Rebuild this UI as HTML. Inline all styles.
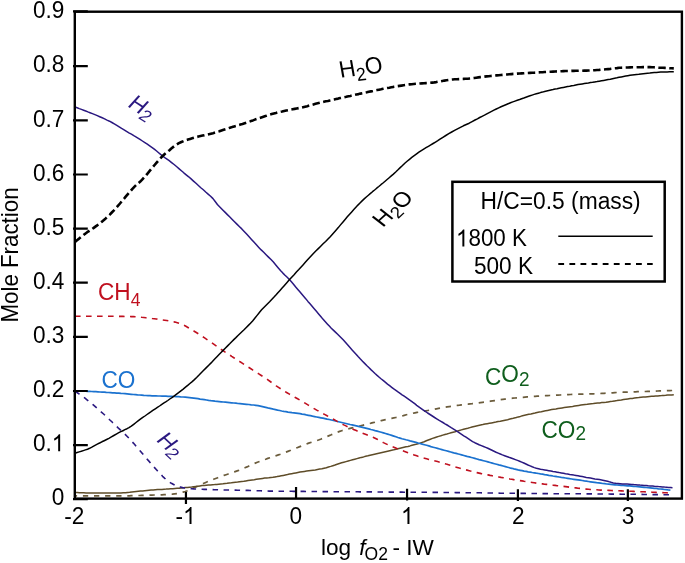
<!DOCTYPE html>
<html><head><meta charset="utf-8"><style>
html,body{margin:0;padding:0;background:#fff;width:685px;height:563px;overflow:hidden;font-family:"Liberation Sans",sans-serif}
</style></head><body>
<svg width="685" height="563" viewBox="0 0 685 563" style="position:absolute;left:0;top:0;will-change:transform">
<g>
<g fill="none" stroke-linejoin="round">
<path d="M75.0,495.9 L77.1,495.9 L79.2,495.9 L81.3,495.9 L83.3,495.9 L85.4,495.9 L87.5,495.9 L89.6,495.9 L91.7,495.9 L93.8,495.9 L95.9,495.9 L97.9,495.9 L100.0,495.9 L102.1,495.9 L104.2,495.9 L106.3,495.9 L108.4,495.9 L110.5,495.9 L112.5,495.9 L114.6,495.9 L116.7,495.9 L118.8,495.9 L120.9,495.9 L123.0,495.9 L125.1,495.8 L127.1,495.8 L129.2,495.8 L131.3,495.7 L133.4,495.7 L135.5,495.6 L137.6,495.5 L139.7,495.5 L141.7,495.4 L143.8,495.3 L145.9,495.3 L148.0,495.2 L150.0,495.1 L152.0,495.1 L154.0,495.0 L156.0,495.0 L158.0,494.9 L160.0,494.9 L162.0,494.8 L164.0,494.7 L166.0,494.6 L168.0,494.5 L170.0,494.4 L172.3,494.2 L174.7,493.9 L177.0,493.6 L179.1,493.2 L181.1,492.7 L183.1,492.1 L185.2,491.5 L187.5,490.7 L189.9,489.7 L192.2,488.6 L194.6,487.5 L196.9,486.4 L199.0,485.5 L201.1,484.6 L203.2,483.6 L205.2,482.7 L207.3,481.8 L209.4,480.9 L211.5,480.1 L213.6,479.3 L215.7,478.5 L217.8,477.7 L219.8,476.9 L221.9,476.2 L224.0,475.4 L226.1,474.7 L228.2,474.0 L230.3,473.3 L232.4,472.6 L234.4,471.9 L236.5,471.1 L238.6,470.4 L240.7,469.6 L242.8,468.7 L244.9,467.8 L247.0,466.9 L249.0,465.9 L251.1,464.9 L253.2,464.0 L255.3,463.1 L257.4,462.3 L259.5,461.5 L261.6,460.7 L263.6,459.9 L265.7,459.2 L267.8,458.4 L269.9,457.7 L272.0,457.0 L274.1,456.3 L276.3,455.6 L278.4,454.9 L280.4,454.2 L282.5,453.4 L284.5,452.7 L286.6,451.9 L288.6,451.1 L290.7,450.3 L292.8,449.4 L295.0,448.6 L297.1,447.7 L299.2,446.9 L301.2,446.1 L303.3,445.3 L305.3,444.4 L307.4,443.6 L309.4,442.9 L311.7,442.2 L313.9,441.5 L316.2,440.8 L318.5,440.0 L320.6,439.2 L322.8,438.3 L324.9,437.4 L327.1,436.5 L329.2,435.6 L331.3,434.8 L333.4,433.9 L335.5,433.0 L337.5,432.2 L339.6,431.4 L341.7,430.7 L343.8,430.0 L345.9,429.4 L348.0,428.9 L350.1,428.4 L352.1,427.9 L354.2,427.4 L356.3,426.9 L358.4,426.4 L360.5,425.9 L362.6,425.3 L364.7,424.8 L366.7,424.3 L368.8,423.8 L370.9,423.2 L373.0,422.7 L375.1,422.2 L377.2,421.6 L379.3,421.1 L381.3,420.6 L383.4,420.1 L385.5,419.6 L387.6,419.1 L389.7,418.7 L391.7,418.3 L393.8,417.9 L395.9,417.5 L397.9,417.1 L400.0,416.6 L402.1,416.0 L404.2,415.4 L406.3,414.8 L408.4,414.2 L410.6,413.7 L412.8,413.3 L414.9,412.8 L417.1,412.4 L419.3,412.1 L421.4,411.7 L423.6,411.3 L425.8,410.9 L427.9,410.5 L430.1,410.1 L432.2,409.7 L434.3,409.3 L436.4,408.8 L438.6,408.4 L440.7,408.0 L442.8,407.7 L444.9,407.3 L447.1,406.9 L449.2,406.6 L451.3,406.3 L453.4,406.0 L455.5,405.7 L457.5,405.4 L459.6,405.2 L461.7,404.9 L463.8,404.7 L465.9,404.4 L468.0,404.2 L470.1,403.9 L472.1,403.7 L474.2,403.4 L476.3,403.2 L478.4,402.9 L480.4,402.6 L482.5,402.3 L484.5,402.1 L486.5,401.8 L488.5,401.5 L490.6,401.2 L492.6,400.9 L494.6,400.6 L496.7,400.3 L498.7,400.0 L500.7,399.7 L502.8,399.4 L504.8,399.1 L506.8,398.9 L508.8,398.6 L510.9,398.4 L512.9,398.2 L514.9,398.0 L516.9,397.8 L519.0,397.6 L521.0,397.4 L523.0,397.3 L525.0,397.1 L527.1,396.9 L529.1,396.8 L531.1,396.6 L533.1,396.5 L535.2,396.4 L537.2,396.2 L539.2,396.1 L541.3,396.0 L543.4,395.8 L545.5,395.7 L547.5,395.6 L549.6,395.5 L551.7,395.4 L553.8,395.3 L555.9,395.2 L558.0,395.1 L560.1,395.0 L562.1,394.9 L564.2,394.8 L566.3,394.7 L568.4,394.6 L570.5,394.5 L572.6,394.4 L574.7,394.4 L576.7,394.3 L578.8,394.2 L580.9,394.2 L583.0,394.1 L585.1,394.0 L587.2,394.0 L589.3,393.9 L591.3,393.8 L593.4,393.8 L595.5,393.7 L597.6,393.6 L599.8,393.5 L601.9,393.4 L604.1,393.3 L606.2,393.1 L608.4,393.0 L610.5,392.9 L612.7,392.8 L614.8,392.6 L617.0,392.5 L619.1,392.4 L621.3,392.3 L623.3,392.2 L625.3,392.1 L627.4,392.1 L629.4,392.0 L631.4,391.9 L633.4,391.9 L635.5,391.8 L637.5,391.7 L639.5,391.7 L641.5,391.6 L643.6,391.5 L645.6,391.5 L647.6,391.4 L649.6,391.3 L651.6,391.3 L653.6,391.2 L655.7,391.1 L657.7,391.0 L659.7,390.9 L661.7,390.9 L663.7,390.8 L665.7,390.7 L667.8,390.6 L669.8,390.6 L671.8,390.5 L673.8,390.4" stroke="#6b5c3c" stroke-width="1.7" stroke-dasharray="5.3 5.8" stroke-dashoffset="3.2"/>
<path d="M75.0,492.6 L77.2,492.6 L79.4,492.7 L81.6,492.7 L83.8,492.8 L86.0,492.9 L88.1,492.9 L90.3,492.9 L92.5,493.0 L94.7,493.0 L96.9,493.0 L99.1,493.0 L101.3,493.0 L103.5,493.0 L105.7,493.0 L107.8,493.0 L110.0,493.0 L112.2,493.0 L114.4,493.0 L116.6,493.0 L118.8,493.0 L121.0,493.0 L123.2,492.8 L125.4,492.7 L127.6,492.4 L129.7,492.2 L131.9,491.9 L134.1,491.7 L136.3,491.5 L138.4,491.3 L140.5,491.1 L142.6,490.9 L144.7,490.7 L146.9,490.5 L149.0,490.3 L151.1,490.1 L153.2,490.0 L155.3,489.8 L157.5,489.6 L159.7,489.5 L161.9,489.4 L164.1,489.2 L166.2,489.1 L168.4,488.9 L170.6,488.8 L172.8,488.7 L175.0,488.5 L177.1,488.3 L179.2,488.2 L181.3,488.0 L183.3,487.8 L185.4,487.6 L187.5,487.4 L189.6,487.2 L191.7,487.0 L193.8,486.7 L195.9,486.4 L197.9,486.2 L200.0,485.9 L202.1,485.6 L204.2,485.4 L206.3,485.2 L208.4,485.0 L210.5,484.9 L212.5,484.7 L214.6,484.6 L216.7,484.4 L218.8,484.2 L220.9,484.0 L223.0,483.8 L225.1,483.5 L227.1,483.3 L229.2,483.0 L231.3,482.8 L233.4,482.5 L235.5,482.2 L237.6,482.0 L239.7,481.7 L241.7,481.4 L243.8,481.2 L245.9,480.9 L248.0,480.6 L250.1,480.3 L252.2,480.0 L254.3,479.7 L256.3,479.3 L258.4,479.0 L260.5,478.7 L262.6,478.4 L264.7,478.1 L266.7,477.9 L268.8,477.7 L270.9,477.4 L272.9,477.2 L275.0,476.9 L277.1,476.6 L279.2,476.2 L281.2,475.8 L283.3,475.4 L285.4,475.0 L287.5,474.6 L289.6,474.1 L291.7,473.7 L293.8,473.3 L295.8,472.9 L297.9,472.5 L300.0,472.1 L302.2,471.7 L304.4,471.4 L306.6,471.1 L308.8,470.8 L310.9,470.5 L313.1,470.2 L315.3,469.9 L317.5,469.5 L319.7,469.1 L321.9,468.7 L324.1,468.2 L326.3,467.7 L328.5,467.0 L330.7,466.4 L332.9,465.7 L335.0,465.0 L337.2,464.2 L339.4,463.5 L341.6,462.8 L343.8,462.2 L346.0,461.6 L348.2,461.0 L350.4,460.4 L352.6,459.8 L354.8,459.2 L356.9,458.6 L359.1,458.0 L361.3,457.4 L363.5,456.9 L365.7,456.3 L367.9,455.8 L370.1,455.2 L372.3,454.7 L374.5,454.2 L376.6,453.7 L378.8,453.2 L381.0,452.7 L383.2,452.2 L385.4,451.7 L387.6,451.2 L389.7,450.7 L391.7,450.2 L393.8,449.8 L395.9,449.3 L397.9,448.8 L400.0,448.3 L402.0,447.8 L404.0,447.3 L406.0,446.8 L408.0,446.4 L410.0,445.9 L412.0,445.3 L414.0,444.8 L416.0,444.3 L418.0,443.7 L420.0,443.1 L422.1,442.4 L424.2,441.7 L426.3,440.8 L428.3,440.0 L430.4,439.2 L432.5,438.4 L434.6,437.7 L436.7,437.0 L438.7,436.4 L440.8,435.8 L442.8,435.1 L444.9,434.5 L446.9,434.0 L449.0,433.4 L451.0,432.8 L453.1,432.2 L455.1,431.7 L457.2,431.1 L459.3,430.5 L461.4,429.9 L463.6,429.3 L465.7,428.7 L467.8,428.2 L469.9,427.6 L472.0,427.0 L474.2,426.5 L476.3,426.0 L478.4,425.5 L480.6,425.0 L482.8,424.6 L485.0,424.1 L487.2,423.7 L489.4,423.3 L491.5,422.9 L493.7,422.5 L495.9,422.1 L498.1,421.6 L500.3,421.2 L502.7,420.7 L505.1,420.2 L507.6,419.7 L510.0,419.1 L512.1,418.6 L514.2,418.0 L516.3,417.5 L518.3,416.9 L520.4,416.4 L522.5,415.8 L524.6,415.3 L526.7,414.8 L528.8,414.3 L530.9,413.9 L532.9,413.4 L535.0,413.0 L537.1,412.5 L539.2,412.1 L541.3,411.7 L543.4,411.2 L545.5,410.8 L547.5,410.4 L549.6,410.0 L551.7,409.6 L553.8,409.2 L555.9,408.9 L558.0,408.5 L560.1,408.2 L562.1,407.9 L564.2,407.6 L566.3,407.3 L568.4,407.0 L570.5,406.7 L572.6,406.4 L574.7,406.0 L576.7,405.7 L578.8,405.4 L580.9,405.1 L583.0,404.8 L585.1,404.5 L587.2,404.3 L589.3,404.0 L591.3,403.8 L593.4,403.6 L595.5,403.3 L597.6,403.1 L599.7,402.9 L601.8,402.6 L603.9,402.4 L606.0,402.2 L608.1,401.9 L610.3,401.6 L612.5,401.3 L614.7,400.9 L616.9,400.6 L619.1,400.2 L621.3,399.9 L623.5,399.5 L625.7,399.2 L627.9,398.9 L630.1,398.6 L632.3,398.4 L634.5,398.1 L636.7,397.8 L638.8,397.6 L641.0,397.3 L643.2,397.1 L645.4,396.9 L647.6,396.7 L649.6,396.5 L651.6,396.3 L653.6,396.2 L655.7,396.0 L657.7,395.9 L659.7,395.7 L661.7,395.6 L663.7,395.4 L665.7,395.3 L667.8,395.1 L669.8,395.0 L671.8,394.9 L673.8,394.7" stroke="#5e4c28" stroke-width="1.5"/>
<path d="M75.0,390.8 L77.1,390.9 L79.2,391.0 L81.3,391.0 L83.3,391.1 L85.4,391.2 L87.5,391.3 L89.6,391.4 L91.7,391.5 L93.8,391.6 L95.9,391.7 L97.9,391.8 L100.0,392.0 L102.1,392.1 L104.2,392.2 L106.3,392.4 L108.4,392.5 L110.5,392.6 L112.5,392.8 L114.6,392.9 L116.7,393.1 L118.8,393.2 L120.9,393.4 L123.0,393.5 L125.1,393.7 L127.1,393.9 L129.2,394.1 L131.3,394.3 L133.4,394.5 L135.5,394.7 L137.6,394.9 L139.7,395.0 L141.7,395.2 L143.8,395.4 L145.9,395.5 L148.0,395.6 L150.0,395.7 L152.0,395.8 L154.0,395.8 L156.0,395.9 L158.0,396.0 L160.0,396.0 L162.0,396.1 L164.0,396.1 L166.0,396.2 L168.0,396.3 L170.0,396.3 L172.0,396.4 L174.0,396.5 L176.2,396.6 L178.5,396.7 L180.7,396.9 L182.9,397.0 L185.2,397.2 L187.4,397.4 L189.5,397.6 L191.6,397.8 L193.8,398.1 L195.9,398.4 L198.0,398.7 L200.1,399.1 L202.3,399.4 L204.4,399.7 L206.5,400.0 L208.6,400.4 L210.8,400.7 L212.9,400.9 L215.0,401.2 L217.1,401.4 L219.2,401.6 L221.3,401.8 L223.3,402.0 L225.4,402.2 L227.5,402.4 L229.6,402.6 L231.7,402.8 L233.8,403.0 L235.9,403.2 L237.9,403.5 L240.0,403.7 L242.1,403.9 L244.2,404.1 L246.5,404.3 L248.9,404.5 L251.2,404.8 L253.6,405.0 L255.9,405.3 L258.1,405.6 L260.3,406.1 L262.5,406.6 L264.6,407.1 L266.8,407.6 L269.0,408.2 L271.2,408.7 L273.4,409.2 L275.5,409.6 L277.6,410.1 L279.7,410.5 L281.7,411.0 L283.8,411.4 L285.9,411.7 L288.0,412.1 L290.0,412.4 L292.0,412.7 L294.0,412.9 L296.0,413.1 L298.0,413.4 L300.0,413.7 L302.1,414.1 L304.2,414.4 L306.3,414.9 L308.3,415.3 L310.4,415.7 L312.5,416.2 L314.6,416.6 L316.7,417.0 L318.8,417.4 L320.9,417.8 L322.9,418.2 L325.0,418.6 L327.1,419.1 L329.2,419.5 L331.3,420.0 L333.4,420.5 L335.5,421.0 L337.5,421.5 L339.6,422.0 L341.7,422.5 L343.8,423.0 L345.9,423.5 L348.0,424.0 L350.1,424.5 L352.1,424.9 L354.2,425.4 L356.3,425.9 L358.4,426.4 L360.5,426.9 L362.6,427.4 L364.7,427.9 L366.7,428.4 L368.8,428.9 L370.9,429.5 L373.0,430.0 L375.1,430.6 L377.2,431.1 L379.3,431.7 L381.3,432.3 L383.4,432.9 L385.5,433.5 L387.6,434.1 L389.7,434.7 L391.7,435.4 L393.8,436.1 L395.9,436.8 L397.9,437.5 L400.0,438.1 L402.0,438.7 L404.0,439.2 L406.0,439.8 L408.0,440.3 L410.0,440.9 L412.0,441.4 L414.0,441.9 L416.0,442.4 L418.0,443.0 L420.0,443.5 L422.2,444.1 L424.4,444.7 L426.6,445.3 L428.8,445.9 L430.9,446.6 L433.1,447.2 L435.3,447.8 L437.5,448.4 L439.7,449.0 L441.9,449.6 L444.1,450.2 L446.3,450.8 L448.5,451.4 L450.7,452.0 L452.9,452.6 L455.0,453.2 L457.2,453.7 L459.4,454.3 L461.6,454.9 L463.8,455.5 L466.0,456.1 L468.2,456.7 L470.4,457.2 L472.6,457.8 L474.8,458.4 L476.9,459.0 L479.1,459.6 L481.3,460.1 L483.5,460.7 L485.7,461.3 L487.9,461.9 L490.1,462.5 L492.3,463.1 L494.5,463.7 L496.6,464.3 L498.8,464.9 L501.0,465.4 L503.2,466.0 L505.4,466.6 L507.6,467.2 L509.7,467.8 L511.8,468.3 L513.9,468.9 L516.0,469.4 L518.1,469.9 L520.1,470.3 L522.1,470.7 L524.1,471.1 L526.2,471.4 L528.2,471.8 L530.2,472.1 L532.2,472.5 L534.2,472.8 L536.3,473.2 L538.4,473.5 L540.5,473.9 L542.5,474.2 L544.6,474.6 L546.7,474.9 L548.8,475.3 L550.9,475.6 L553.0,476.0 L555.1,476.3 L557.1,476.7 L559.2,477.0 L561.3,477.4 L563.4,477.7 L565.5,478.0 L567.6,478.3 L569.7,478.7 L571.7,479.0 L573.8,479.3 L575.9,479.6 L578.0,479.9 L580.1,480.2 L582.2,480.5 L584.3,480.9 L586.3,481.2 L588.4,481.5 L590.5,481.8 L592.6,482.1 L594.6,482.4 L596.6,482.7 L598.7,482.9 L600.7,483.2 L602.7,483.5 L604.7,483.7 L606.8,484.0 L608.8,484.2 L610.8,484.4 L612.9,484.6 L615.0,484.8 L617.0,485.0 L619.1,485.1 L621.2,485.3 L623.3,485.4 L625.4,485.6 L627.4,485.8 L629.5,485.9 L631.6,486.1 L633.7,486.3 L635.8,486.5 L637.8,486.7 L639.9,486.9 L642.0,487.1 L644.1,487.3 L646.2,487.5 L648.2,487.7 L650.3,487.9 L652.4,488.1 L654.4,488.3 L656.4,488.5 L658.4,488.8 L660.4,489.0 L662.4,489.2 L664.4,489.5 L666.4,489.7 L668.4,490.0 L670.4,490.2" stroke="#1b72cf" stroke-width="1.7"/>
<path d="M75.0,316.3 L77.1,316.3 L79.2,316.3 L81.3,316.3 L83.3,316.3 L85.4,316.3 L87.5,316.3 L89.6,316.3 L91.7,316.3 L93.8,316.3 L95.9,316.3 L97.9,316.3 L100.0,316.3 L102.1,316.3 L104.2,316.3 L106.3,316.3 L108.4,316.3 L110.5,316.3 L112.5,316.3 L114.6,316.3 L116.7,316.4 L118.8,316.4 L120.9,316.4 L123.0,316.4 L125.1,316.5 L127.1,316.5 L129.2,316.5 L131.3,316.6 L133.4,316.6 L135.5,316.7 L137.6,316.8 L139.7,317.0 L141.7,317.3 L143.8,317.5 L145.9,317.8 L148.0,318.0 L150.1,318.2 L152.2,318.5 L154.3,318.7 L156.3,319.0 L158.4,319.3 L160.5,319.6 L162.6,319.9 L164.7,320.2 L166.7,320.5 L168.8,320.9 L170.9,321.3 L172.9,321.7 L175.0,322.1 L177.3,322.7 L179.6,323.4 L181.7,324.2 L183.8,325.2 L185.9,326.3 L187.9,327.5 L190.0,328.7 L192.1,330.0 L194.2,331.2 L196.3,332.5 L198.4,333.8 L200.5,335.1 L202.5,336.5 L204.6,337.9 L206.7,339.3 L208.8,340.7 L210.9,342.1 L213.0,343.6 L215.1,345.1 L217.1,346.5 L219.2,348.0 L221.3,349.5 L223.4,350.9 L225.5,352.3 L227.6,353.7 L229.7,355.0 L231.7,356.4 L233.8,357.7 L235.9,359.0 L238.0,360.4 L240.1,361.8 L242.2,363.1 L244.3,364.5 L246.3,365.8 L248.4,367.2 L250.5,368.5 L252.6,369.9 L254.7,371.2 L256.7,372.6 L258.8,373.9 L260.9,375.2 L262.9,376.5 L265.0,377.9 L267.2,379.4 L269.5,381.0 L271.7,382.6 L274.0,384.2 L276.2,385.8 L278.5,387.3 L280.7,388.8 L282.8,390.1 L284.9,391.4 L287.0,392.7 L289.0,393.9 L291.1,395.1 L293.2,396.3 L295.3,397.5 L297.6,398.8 L300.0,400.1 L302.1,401.3 L304.2,402.6 L306.3,403.9 L308.3,405.1 L310.4,406.4 L312.5,407.7 L314.6,408.9 L316.7,410.1 L318.8,411.2 L320.9,412.4 L322.9,413.5 L325.0,414.6 L327.1,415.8 L329.2,416.9 L331.3,418.1 L333.4,419.2 L335.5,420.4 L337.5,421.6 L339.6,422.7 L341.7,423.8 L343.8,424.9 L345.9,425.9 L348.0,426.9 L350.1,427.9 L352.1,428.8 L354.2,429.7 L356.3,430.6 L358.4,431.5 L360.5,432.4 L362.6,433.2 L364.7,434.0 L366.7,434.8 L368.8,435.6 L370.9,436.4 L373.0,437.3 L375.1,438.3 L377.2,439.3 L379.3,440.4 L381.3,441.5 L383.4,442.6 L385.5,443.6 L387.6,444.6 L389.7,445.5 L391.7,446.4 L393.8,447.2 L395.9,448.1 L397.9,448.9 L400.0,449.7 L402.0,450.5 L404.0,451.2 L406.0,452.0 L408.0,452.8 L410.0,453.5 L412.0,454.2 L414.0,454.9 L416.0,455.6 L418.0,456.3 L420.0,456.9 L422.2,457.6 L424.4,458.2 L426.6,458.8 L428.8,459.4 L430.9,459.9 L433.1,460.5 L435.3,461.0 L437.5,461.6 L439.7,462.2 L441.9,462.8 L444.1,463.4 L446.3,464.1 L448.5,464.7 L450.7,465.4 L452.9,466.1 L455.0,466.8 L457.2,467.4 L459.4,468.1 L461.6,468.7 L463.8,469.3 L466.0,469.9 L468.2,470.4 L470.4,471.0 L472.6,471.5 L474.8,472.1 L476.9,472.6 L479.1,473.1 L481.3,473.6 L483.5,474.0 L485.7,474.5 L487.9,474.9 L490.1,475.4 L492.3,475.8 L494.5,476.2 L496.6,476.6 L498.8,477.0 L501.0,477.4 L503.2,477.7 L505.4,478.1 L507.6,478.5 L509.7,478.9 L511.7,479.2 L513.8,479.6 L515.9,479.9 L517.9,480.3 L520.0,480.6 L522.0,480.9 L524.1,481.3 L526.1,481.6 L528.1,481.9 L530.1,482.2 L532.2,482.5 L534.2,482.8 L536.3,483.1 L538.4,483.4 L540.5,483.6 L542.5,483.9 L544.6,484.2 L546.7,484.4 L548.8,484.7 L550.9,484.9 L553.0,485.2 L555.1,485.4 L557.1,485.7 L559.2,485.9 L561.3,486.2 L563.4,486.4 L565.5,486.6 L567.6,486.9 L569.7,487.2 L571.7,487.4 L573.8,487.7 L575.9,487.9 L578.0,488.2 L580.1,488.4 L582.2,488.7 L584.3,488.9 L586.3,489.1 L588.4,489.3 L590.5,489.5 L592.6,489.6 L594.7,489.7 L596.7,489.8 L598.8,490.0 L600.8,490.1 L602.9,490.2 L604.9,490.3 L607.0,490.3 L609.0,490.4 L611.1,490.5 L613.1,490.6 L615.2,490.7 L617.2,490.7 L619.3,490.8 L621.3,490.9 L623.4,491.0 L625.4,491.0 L627.5,491.1 L629.5,491.2 L631.6,491.3 L633.6,491.4 L635.7,491.5 L637.7,491.6 L639.8,491.7 L641.8,491.7 L643.9,491.8 L645.9,491.9 L647.9,492.0 L650.0,492.1 L652.0,492.2 L654.1,492.3 L656.1,492.4 L658.1,492.5 L660.2,492.6 L662.2,492.6 L664.3,492.7 L666.3,492.8 L668.4,492.9 L670.4,493.0" stroke="#c0101f" stroke-width="1.6" stroke-dasharray="5.6 5.4"/>
<path d="M75.0,391.1 L77.0,392.5 L79.0,393.9 L81.0,395.3 L83.0,396.7 L85.0,398.2 L87.0,399.8 L89.0,401.4 L91.0,403.0 L93.0,404.7 L95.0,406.4 L97.1,408.3 L99.3,410.1 L101.4,412.1 L103.6,414.0 L105.7,416.0 L107.8,418.0 L109.9,420.0 L112.1,422.0 L114.2,424.1 L116.3,426.1 L118.4,428.1 L120.6,430.1 L122.7,432.0 L124.9,434.1 L127.0,436.2 L129.1,438.4 L131.2,440.8 L133.4,443.1 L135.5,445.6 L137.6,448.0 L140.0,450.8 L142.4,453.6 L144.8,456.4 L147.2,459.2 L149.6,461.9 L151.9,464.7 L154.3,467.4 L156.7,470.0 L159.6,473.2 L162.6,476.3 L164.8,478.3 L167.0,480.2 L169.2,481.9 L171.4,483.3 L173.6,484.5 L175.7,485.6 L177.9,486.4 L180.2,487.0 L182.6,487.6 L184.9,488.0 L187.3,488.4 L189.6,488.6 L191.7,488.7 L193.8,488.9 L195.9,489.0 L197.9,489.1 L200.0,489.2 L202.1,489.3 L204.2,489.4 L206.3,489.4 L208.4,489.5 L210.5,489.6 L212.5,489.6 L214.6,489.7 L216.7,489.7 L218.8,489.8 L220.9,489.9 L223.0,489.9 L225.1,490.0 L227.1,490.0 L229.2,490.0 L231.3,490.1 L233.4,490.1 L235.5,490.1 L237.6,490.2 L239.7,490.2 L241.7,490.3 L243.8,490.3 L245.9,490.4 L248.0,490.4 L250.1,490.5 L252.3,490.5 L254.4,490.6 L256.5,490.7 L258.6,490.7 L260.8,490.8 L262.9,490.9 L265.0,491.0 L267.1,491.0 L269.3,491.1 L271.4,491.1 L273.4,491.1 L275.4,491.2 L277.5,491.2 L279.5,491.2 L281.5,491.2 L283.5,491.3 L285.5,491.3 L287.5,491.3 L289.6,491.3 L291.6,491.3 L293.6,491.4 L295.6,491.4 L297.6,491.4 L299.6,491.4 L301.7,491.4 L303.7,491.4 L305.7,491.5 L307.7,491.5 L309.7,491.5 L311.8,491.5 L313.8,491.5 L315.8,491.5 L317.8,491.5 L319.8,491.6 L321.8,491.6 L323.9,491.6 L325.9,491.6 L327.9,491.6 L329.9,491.6 L331.9,491.6 L333.9,491.7 L336.0,491.7 L338.0,491.7 L340.0,491.7 L342.0,491.7 L344.0,491.7 L346.0,491.7 L348.0,491.8 L350.0,491.8 L352.0,491.8 L354.0,491.8 L356.0,491.8 L358.0,491.8 L360.0,491.9 L362.0,491.9 L364.0,491.9 L366.0,491.9 L368.0,491.9 L370.0,491.9 L372.0,491.9 L374.0,492.0 L376.0,492.0 L378.0,492.0 L380.0,492.0 L382.0,492.0 L384.0,492.0 L386.0,492.0 L388.0,492.0 L390.0,492.1 L392.0,492.1 L394.0,492.1 L396.0,492.1 L398.0,492.1 L400.0,492.1 L402.0,492.1 L404.0,492.2 L406.0,492.2 L408.0,492.2 L410.0,492.2 L412.0,492.2 L414.0,492.2 L416.0,492.2 L418.0,492.3 L420.0,492.3 L422.0,492.3 L424.0,492.3 L426.0,492.3 L428.0,492.3 L430.0,492.3 L432.0,492.4 L434.0,492.4 L436.0,492.4 L438.0,492.4 L440.0,492.4 L442.0,492.4 L444.0,492.5 L446.0,492.5 L448.0,492.5 L450.0,492.5 L452.0,492.5 L454.0,492.5 L456.0,492.6 L458.0,492.6 L460.0,492.6 L462.0,492.6 L464.0,492.6 L466.0,492.7 L468.0,492.7 L470.0,492.7 L472.0,492.7 L474.1,492.7 L476.1,492.8 L478.2,492.8 L480.2,492.8 L482.2,492.9 L484.3,492.9 L486.3,492.9 L488.4,493.0 L490.4,493.0 L492.4,493.0 L494.5,493.1 L496.5,493.1 L498.6,493.1 L500.6,493.2 L502.6,493.2 L504.7,493.2 L506.7,493.3 L508.8,493.3 L510.8,493.3 L512.9,493.3 L514.9,493.3 L517.0,493.4 L519.0,493.4 L521.0,493.4 L523.1,493.4 L525.1,493.4 L527.2,493.5 L529.2,493.5 L531.3,493.5 L533.4,493.5 L535.4,493.5 L537.5,493.5 L539.5,493.6 L541.5,493.6 L543.6,493.6 L545.6,493.6 L547.7,493.6 L549.8,493.6 L551.8,493.6 L553.9,493.7 L555.9,493.7 L558.0,493.7 L560.0,493.7 L562.0,493.7 L564.1,493.7 L566.1,493.7 L568.2,493.8 L570.2,493.8 L572.3,493.8 L574.3,493.8 L576.4,493.8 L578.4,493.8 L580.5,493.8 L582.5,493.8 L584.5,493.9 L586.6,493.9 L588.6,493.9 L590.7,493.9 L592.7,493.9 L594.8,493.9 L596.8,493.9 L598.9,494.0 L600.9,494.0 L603.0,494.0 L605.0,494.0 L607.0,494.0 L609.1,494.0 L611.1,494.1 L613.2,494.1 L615.2,494.1 L617.3,494.1 L619.3,494.1 L621.4,494.2 L623.4,494.2 L625.4,494.2 L627.5,494.2 L629.5,494.3 L631.6,494.3 L633.6,494.3 L635.7,494.3 L637.7,494.4 L639.7,494.4 L641.8,494.4 L643.8,494.5 L645.9,494.5 L647.9,494.5 L650.0,494.5 L652.0,494.6 L654.0,494.6 L656.1,494.6 L658.1,494.6 L660.2,494.7 L662.2,494.7 L664.3,494.7 L666.3,494.7 L668.4,494.8 L670.4,494.8" stroke="#2a1880" stroke-width="1.6" stroke-dasharray="5.5 5.5"/>
<path d="M75.0,106.9 L77.1,107.7 L79.3,108.6 L81.4,109.4 L83.6,110.2 L85.7,111.0 L87.9,111.9 L90.0,112.7 L92.4,113.6 L94.9,114.6 L97.3,115.6 L99.7,116.7 L102.2,117.8 L104.6,118.9 L107.0,120.1 L109.5,121.2 L111.9,122.5 L114.3,123.9 L116.8,125.4 L119.2,126.9 L121.6,128.4 L124.1,129.8 L126.5,131.3 L128.9,132.8 L131.4,134.2 L133.8,135.7 L135.9,136.9 L137.9,138.1 L140.0,139.4 L142.4,141.0 L144.9,142.6 L147.3,144.2 L149.7,145.9 L152.2,147.6 L154.6,149.4 L156.6,151.0 L158.6,152.7 L160.6,154.4 L162.6,156.0 L164.8,157.6 L167.0,159.1 L169.2,160.7 L171.6,162.6 L174.1,164.5 L176.5,166.5 L178.9,168.6 L181.4,170.7 L183.8,172.8 L186.2,174.8 L188.7,176.8 L191.1,178.9 L193.5,181.1 L196.0,183.3 L198.4,185.5 L200.8,187.7 L203.3,189.8 L205.7,192.0 L208.1,194.1 L210.6,196.2 L213.0,198.6 L215.2,201.5 L217.4,204.5 L220.8,208.0 L223.0,210.2 L225.2,212.4 L227.4,214.6 L229.6,216.8 L232.0,219.2 L234.5,221.7 L236.9,224.1 L239.3,226.5 L241.8,228.9 L244.2,231.4 L246.6,234.0 L249.1,236.7 L251.5,239.4 L253.9,242.1 L256.4,244.8 L258.8,247.4 L261.2,249.9 L263.7,252.3 L266.1,254.7 L268.5,257.1 L271.0,259.5 L273.4,262.0 L275.8,264.9 L278.3,267.9 L280.7,270.8 L282.9,273.1 L285.0,275.2 L287.2,277.3 L289.4,279.5 L291.4,281.8 L293.5,284.2 L295.5,286.7 L297.6,289.2 L299.6,291.6 L301.7,294.1 L303.8,296.5 L305.9,298.9 L307.9,301.4 L310.0,303.8 L312.1,306.3 L314.2,308.7 L316.4,311.3 L318.6,313.9 L320.8,316.5 L322.9,319.1 L325.1,321.6 L327.3,324.0 L329.3,326.1 L331.3,328.2 L333.3,330.1 L335.4,332.1 L337.4,334.0 L339.4,336.0 L341.4,338.0 L343.4,340.1 L345.6,342.6 L347.8,345.1 L350.0,347.6 L352.1,349.9 L354.2,352.2 L356.3,354.5 L358.3,356.8 L360.4,359.1 L362.5,361.3 L364.6,363.4 L366.7,365.5 L368.8,367.5 L370.9,369.6 L372.9,371.5 L375.0,373.5 L377.1,375.4 L379.2,377.2 L381.3,379.0 L383.4,380.7 L385.5,382.4 L387.5,384.1 L389.6,385.7 L391.7,387.3 L393.8,388.9 L395.9,390.4 L398.0,391.9 L400.1,393.3 L402.1,394.8 L404.2,396.2 L406.3,397.6 L408.4,399.1 L410.5,400.6 L412.6,402.2 L414.7,403.7 L416.7,405.3 L418.8,406.8 L420.9,408.3 L423.0,409.8 L425.3,411.4 L427.6,413.0 L430.0,414.5 L432.3,416.0 L434.6,417.5 L436.7,418.8 L438.8,420.1 L440.9,421.3 L442.9,422.5 L445.0,423.8 L447.1,425.0 L449.2,426.3 L451.2,427.6 L453.2,428.8 L455.2,430.1 L457.2,431.4 L459.4,432.8 L461.6,434.3 L463.8,435.8 L466.0,437.2 L468.2,438.7 L470.4,440.2 L472.6,441.6 L474.8,442.7 L477.0,443.7 L479.1,444.7 L481.3,445.6 L483.5,446.5 L485.7,447.4 L487.8,448.3 L489.9,449.3 L492.0,450.3 L494.0,451.2 L496.1,452.2 L498.2,453.1 L500.3,454.0 L502.4,454.9 L504.6,455.7 L506.7,456.5 L508.9,457.3 L511.0,458.0 L513.2,458.8 L515.3,459.6 L517.5,460.4 L519.6,461.2 L521.7,462.1 L523.8,463.0 L525.9,464.0 L528.0,465.0 L530.1,465.9 L532.2,466.8 L534.3,467.6 L536.4,468.2 L538.5,468.7 L540.5,469.2 L542.6,469.6 L544.7,469.9 L546.7,470.3 L548.8,470.7 L550.9,471.1 L553.0,471.5 L555.1,471.8 L557.1,472.2 L559.2,472.6 L561.3,472.9 L563.4,473.3 L565.5,473.7 L567.6,474.0 L569.7,474.4 L571.7,474.7 L573.8,475.1 L575.9,475.4 L578.0,475.8 L580.1,476.2 L582.2,476.6 L584.3,477.0 L586.3,477.4 L588.4,477.7 L590.5,478.1 L592.6,478.5 L594.9,478.9 L597.1,479.2 L599.4,479.6 L601.6,480.0 L603.9,480.4 L606.3,481.0 L608.6,481.6 L611.0,482.3 L613.3,482.9 L615.7,483.3 L618.0,483.5 L620.2,483.7 L622.5,483.9 L624.8,484.0 L627.1,484.1 L629.3,484.2 L631.6,484.4 L633.7,484.6 L635.8,484.7 L637.8,484.9 L639.9,485.1 L642.0,485.2 L644.1,485.4 L646.2,485.6 L648.2,485.8 L650.3,485.9 L652.4,486.1 L654.4,486.3 L656.4,486.4 L658.4,486.6 L660.4,486.7 L662.5,486.9 L664.5,487.1 L666.5,487.2 L668.5,487.4 L670.5,487.5 L672.5,487.7" stroke="#2a1880" stroke-width="1.5"/>
<path d="M75.0,453.2 L77.1,452.5 L79.2,451.9 L81.3,451.3 L83.3,450.6 L85.4,449.9 L87.5,449.2 L89.6,448.3 L92.3,446.9 L95.0,445.3 L97.3,444.1 L99.6,443.0 L101.9,441.8 L104.2,440.7 L106.6,439.5 L108.9,438.3 L111.4,436.9 L113.8,435.5 L116.3,434.1 L118.8,432.7 L120.8,431.7 L122.9,430.7 L124.9,429.7 L127.0,428.7 L129.0,427.6 L131.3,426.1 L133.7,424.3 L136.0,422.5 L138.4,420.7 L140.7,418.9 L142.8,417.4 L144.9,416.0 L147.0,414.5 L149.0,413.1 L151.1,411.7 L153.2,410.2 L155.3,408.8 L157.4,407.4 L159.5,406.0 L161.5,404.6 L163.6,403.2 L165.7,401.9 L167.8,400.5 L169.8,399.0 L171.9,397.6 L174.0,396.1 L176.3,394.4 L178.6,392.7 L180.9,390.9 L183.2,389.1 L185.5,387.2 L187.7,385.4 L189.9,383.5 L192.2,381.6 L194.4,379.6 L196.6,377.5 L198.8,375.3 L201.0,373.0 L203.2,370.8 L206.1,367.9 L209.0,365.0 L211.1,362.9 L213.1,360.8 L215.2,358.6 L217.2,356.5 L219.3,354.3 L221.3,352.2 L223.4,350.1 L225.5,348.0 L227.6,345.9 L229.7,343.8 L231.7,341.7 L233.8,339.6 L235.9,337.6 L238.0,335.5 L240.1,333.5 L242.2,331.5 L244.3,329.5 L246.3,327.5 L248.4,325.4 L250.5,323.3 L252.6,321.0 L254.8,318.3 L257.1,315.4 L259.4,312.5 L261.6,309.8 L263.6,307.7 L265.6,305.7 L267.6,303.7 L269.6,301.7 L271.7,299.5 L273.8,297.3 L275.9,295.0 L277.9,292.7 L280.0,290.4 L282.1,288.1 L284.2,285.7 L286.8,282.7 L289.3,279.8 L291.7,277.2 L294.1,274.7 L296.4,272.1 L298.8,269.6 L300.9,267.3 L303.0,265.0 L305.1,262.6 L307.1,260.3 L309.2,258.0 L311.3,255.7 L313.4,253.5 L315.8,251.0 L318.3,248.6 L320.7,246.2 L323.1,243.8 L325.6,241.5 L328.0,239.0 L330.0,236.9 L332.0,234.7 L334.0,232.5 L336.0,230.2 L338.3,227.6 L340.5,224.9 L342.8,222.2 L345.1,219.4 L347.3,216.8 L349.6,214.2 L351.7,211.9 L353.8,209.6 L355.9,207.3 L357.9,205.1 L360.0,203.0 L362.1,200.9 L364.2,198.9 L366.3,197.0 L368.4,195.2 L370.5,193.4 L372.5,191.7 L374.6,190.0 L376.7,188.2 L378.8,186.5 L380.9,184.7 L383.0,183.0 L385.1,181.2 L387.1,179.5 L389.2,177.7 L391.3,175.9 L393.4,174.1 L395.7,172.0 L398.0,169.8 L400.2,167.6 L402.5,165.5 L404.8,163.3 L407.1,161.3 L409.5,159.3 L411.8,157.4 L414.2,155.6 L416.6,153.9 L418.9,152.2 L421.3,150.6 L423.7,149.1 L426.0,147.7 L428.4,146.3 L430.8,144.9 L433.1,143.5 L435.5,142.1 L437.8,140.7 L440.0,139.2 L442.9,137.3 L445.8,135.5 L448.8,133.7 L451.7,132.0 L454.6,130.4 L457.5,128.8 L460.4,127.3 L463.4,125.8 L466.3,124.5 L469.2,123.2 L472.1,121.6 L475.0,120.0 L477.4,118.8 L479.7,117.5 L482.1,116.3 L484.5,115.1 L486.8,113.8 L489.2,112.6 L491.6,111.4 L493.9,110.2 L496.3,109.0 L498.7,107.9 L501.0,106.8 L503.4,105.8 L505.8,104.8 L508.1,103.8 L510.5,102.8 L512.8,101.9 L515.0,101.1 L517.3,100.3 L519.6,99.5 L521.7,98.7 L523.8,98.0 L525.9,97.2 L527.9,96.5 L530.0,95.8 L532.1,95.1 L534.2,94.4 L536.3,93.8 L538.4,93.2 L540.5,92.6 L542.5,92.1 L544.6,91.5 L546.7,91.0 L548.8,90.5 L550.9,90.0 L553.0,89.6 L555.1,89.1 L557.1,88.7 L559.2,88.2 L561.3,87.8 L563.4,87.4 L565.5,87.0 L567.6,86.6 L569.7,86.2 L571.7,85.7 L573.8,85.4 L575.9,85.0 L578.0,84.6 L580.1,84.2 L582.2,83.9 L584.3,83.6 L586.3,83.3 L588.4,83.0 L590.5,82.6 L592.6,82.3 L594.8,81.9 L597.0,81.6 L599.2,81.2 L601.5,80.8 L603.7,80.4 L605.9,80.0 L608.1,79.6 L610.3,79.2 L612.5,78.7 L614.7,78.2 L616.9,77.8 L619.1,77.3 L621.3,76.9 L623.5,76.5 L625.7,76.1 L627.8,75.7 L630.0,75.3 L632.2,75.0 L634.4,74.7 L636.6,74.4 L638.8,74.2 L641.0,73.9 L643.2,73.7 L645.4,73.5 L647.6,73.3 L649.8,73.1 L652.0,72.8 L654.2,72.6 L656.3,72.4 L658.5,72.2 L660.7,72.1 L662.9,72.0 L665.1,71.9 L667.2,71.9 L669.4,71.8 L671.6,71.8 L673.8,71.7" stroke="#000" stroke-width="1.5"/>
<path d="M75.0,241.9 L77.0,240.2 L79.1,238.6 L81.1,236.9 L83.2,235.3 L85.2,233.7 L87.2,232.2 L89.3,230.8 L91.3,229.5 L93.4,228.1 L95.4,226.6 L97.5,225.1 L99.5,223.5 L101.6,221.9 L103.6,220.2 L105.7,218.4 L107.7,216.5 L109.8,214.6 L111.8,212.5 L113.9,210.4 L115.9,208.2 L117.9,205.9 L120.0,203.5 L122.0,201.0 L124.1,198.6 L126.1,196.2 L128.1,193.8 L130.2,191.5 L132.2,189.1 L134.3,186.9 L136.3,184.9 L140.0,181.8 L142.4,179.3 L144.9,176.6 L147.3,173.8 L149.7,170.9 L152.2,167.9 L154.6,165.0 L156.6,162.6 L158.6,160.3 L160.6,158.1 L162.6,156.0 L164.8,154.0 L167.0,152.2 L169.2,150.4 L171.6,148.3 L174.1,146.3 L176.5,144.6 L178.9,143.2 L181.4,142.0 L183.8,141.0 L185.9,140.2 L188.0,139.5 L190.1,138.9 L192.1,138.3 L194.2,137.7 L196.3,137.1 L198.4,136.6 L200.5,136.1 L202.6,135.6 L204.7,135.1 L206.7,134.7 L208.8,134.2 L210.9,133.7 L213.0,133.2 L215.1,132.6 L217.2,131.9 L219.4,131.3 L221.5,130.5 L223.6,129.8 L225.8,129.1 L227.9,128.4 L230.0,127.7 L232.1,127.1 L234.2,126.4 L236.3,125.8 L238.3,125.2 L240.4,124.6 L242.5,124.0 L244.6,123.3 L246.7,122.6 L248.8,121.9 L250.9,121.1 L252.9,120.4 L255.0,119.6 L257.1,118.9 L259.2,118.2 L261.3,117.5 L263.4,116.8 L265.5,116.1 L267.5,115.4 L269.6,114.7 L271.7,114.1 L273.8,113.5 L275.9,113.0 L278.0,112.4 L280.1,111.9 L282.1,111.5 L284.2,111.0 L286.3,110.5 L288.4,110.1 L290.5,109.7 L292.6,109.3 L294.7,108.9 L296.7,108.5 L298.8,108.1 L300.9,107.7 L303.0,107.2 L305.1,106.7 L307.2,106.2 L309.3,105.6 L311.3,105.0 L313.4,104.4 L315.5,103.8 L317.6,103.3 L319.7,102.8 L321.7,102.3 L323.8,101.8 L325.9,101.3 L327.9,100.9 L330.0,100.4 L332.0,99.9 L334.1,99.5 L336.1,99.0 L338.2,98.6 L340.2,98.1 L342.2,97.7 L344.3,97.2 L346.3,96.8 L348.4,96.3 L350.4,95.9 L352.4,95.4 L354.5,95.0 L356.5,94.5 L358.6,94.1 L360.6,93.6 L362.7,93.2 L364.8,92.7 L366.8,92.3 L368.8,91.8 L370.9,91.4 L372.9,91.0 L375.0,90.5 L377.0,90.1 L379.1,89.7 L381.1,89.3 L383.1,88.8 L385.2,88.4 L387.2,88.0 L389.3,87.7 L391.3,87.3 L393.3,86.9 L395.4,86.6 L397.4,86.2 L399.5,85.9 L401.5,85.6 L403.5,85.3 L405.6,85.0 L407.6,84.7 L409.7,84.4 L411.7,84.2 L413.8,84.0 L415.8,83.8 L417.8,83.7 L419.9,83.5 L421.9,83.4 L424.0,83.3 L426.1,83.1 L428.1,83.0 L430.1,82.8 L432.2,82.6 L434.2,82.4 L436.3,82.1 L438.3,81.7 L440.4,81.4 L442.4,81.0 L444.4,80.6 L446.5,80.3 L448.5,80.0 L450.6,79.7 L452.6,79.5 L454.8,79.3 L457.0,79.2 L459.1,79.1 L461.3,79.0 L463.5,78.9 L465.6,78.8 L467.8,78.7 L470.0,78.5 L472.1,78.3 L474.2,78.0 L476.2,77.7 L478.3,77.4 L480.4,77.1 L482.4,76.9 L484.5,76.6 L486.5,76.4 L488.6,76.2 L490.6,76.0 L492.7,75.8 L494.8,75.6 L496.8,75.4 L498.8,75.2 L500.9,75.0 L503.0,74.8 L505.1,74.6 L507.1,74.5 L509.2,74.3 L511.3,74.1 L513.4,73.9 L515.4,73.8 L517.5,73.6 L519.6,73.5 L521.7,73.4 L523.8,73.3 L525.9,73.1 L527.9,73.0 L530.0,72.9 L532.1,72.8 L534.2,72.7 L536.3,72.6 L538.4,72.4 L540.5,72.3 L542.5,72.2 L544.6,72.0 L546.7,71.9 L548.8,71.8 L550.9,71.7 L553.0,71.6 L555.1,71.5 L557.1,71.4 L559.2,71.3 L561.3,71.2 L563.4,71.1 L565.5,71.0 L567.6,71.0 L569.7,71.0 L571.7,70.9 L573.8,70.9 L575.9,70.8 L578.0,70.8 L580.1,70.7 L582.2,70.7 L584.3,70.6 L586.3,70.6 L588.4,70.5 L590.5,70.4 L592.6,70.3 L594.8,70.2 L597.0,70.0 L599.2,69.9 L601.5,69.7 L603.7,69.5 L605.9,69.3 L608.1,69.1 L610.3,68.9 L612.5,68.6 L614.7,68.3 L616.9,68.1 L619.1,67.8 L621.3,67.7 L623.5,67.6 L625.7,67.5 L627.8,67.5 L630.0,67.4 L632.2,67.3 L634.4,67.3 L636.6,67.3 L638.8,67.2 L641.0,67.2 L643.2,67.1 L645.4,67.1 L647.6,67.1 L649.8,67.1 L652.0,67.2 L654.2,67.3 L656.3,67.4 L658.5,67.6 L660.7,67.7 L662.9,67.8 L665.1,67.9 L667.2,68.0 L669.4,68.2 L671.6,68.3 L673.8,68.4" stroke="#000" stroke-width="2.6" stroke-dasharray="7.4 3.5"/>
</g>
<rect x="74.8" y="11.7" width="607.1" height="486.9" fill="none" stroke="#000" stroke-width="2.4"/>
<path d="M73,499.2 H87.8 M73,445.1 H87.8 M73,391.0 H87.8 M73,336.8 H87.8 M73,282.7 H87.8 M73,228.6 H87.8 M73,174.5 H87.8 M73,120.4 H87.8 M73,66.2 H87.8 M73,11.3 H87.8 M185.95,504 V492 M296.05,499 V487 M407.05,500.6 V488.7 M517.90,501 V489.3 M627.85,501.1 V489.2" stroke="#000" stroke-width="2.2" fill="none"/>
<rect x="452.4" y="181.8" width="212.3" height="99.7" fill="#fff" stroke="#000" stroke-width="2.5"/>
<path d="M558.3,236.2 H652.7" stroke="#000" stroke-width="1.6"/>
<path d="M558.3,264 H652.7" stroke="#000" stroke-width="1.8" stroke-dasharray="5.8 5.3"/>
</g>
<g font-family="Liberation Sans, sans-serif">
<text transform="translate(64.30,505.40) scale(1,1.05)" text-anchor="end" font-size="22.6">0</text>
<text transform="translate(51.73,451.28) scale(1,1.05)" text-anchor="end" font-size="22.6">0.</text>
<path transform="translate(51.73,451.28) scale(22.6,23.730)" d="M0.3726,0L0.2847,0L0.2847,-0.5601Q0.2529,-0.5298 0.2012,-0.4995Q0.1494,-0.4692 0.1084,-0.4541L0.1084,-0.5391Q0.1821,-0.5737 0.2373,-0.6230Q0.2925,-0.6724 0.3154,-0.7188L0.3726,-0.7188Z" fill="#000"/>
<text transform="translate(64.30,397.16) scale(1,1.05)" text-anchor="end" font-size="22.6">0.2</text>
<text transform="translate(64.30,343.04) scale(1,1.05)" text-anchor="end" font-size="22.6">0.3</text>
<text transform="translate(64.30,288.92) scale(1,1.05)" text-anchor="end" font-size="22.6">0.4</text>
<text transform="translate(64.30,234.80) scale(1,1.05)" text-anchor="end" font-size="22.6">0.5</text>
<text transform="translate(64.30,180.68) scale(1,1.05)" text-anchor="end" font-size="22.6">0.6</text>
<text transform="translate(64.30,126.56) scale(1,1.05)" text-anchor="end" font-size="22.6">0.7</text>
<text transform="translate(64.30,72.44) scale(1,1.05)" text-anchor="end" font-size="22.6">0.8</text>
<text transform="translate(64.30,18.32) scale(1,1.05)" text-anchor="end" font-size="22.6">0.9</text>
<text transform="translate(74.30,523.90) scale(1,1.04)" text-anchor="middle" font-size="22.6">-2</text>
<text transform="translate(175.55,523.90) scale(1,1.04)" font-size="22.6">-</text>
<path transform="translate(183.08,523.90) scale(22.6,23.504)" d="M0.3726,0L0.2847,0L0.2847,-0.5601Q0.2529,-0.5298 0.2012,-0.4995Q0.1494,-0.4692 0.1084,-0.4541L0.1084,-0.5391Q0.1821,-0.5737 0.2373,-0.6230Q0.2925,-0.6724 0.3154,-0.7188L0.3726,-0.7188Z" fill="#000"/>
<text transform="translate(295.90,523.90) scale(1,1.04)" text-anchor="middle" font-size="22.6">0</text>
<path transform="translate(401.02,523.90) scale(22.6,23.504)" d="M0.3726,0L0.2847,0L0.2847,-0.5601Q0.2529,-0.5298 0.2012,-0.4995Q0.1494,-0.4692 0.1084,-0.4541L0.1084,-0.5391Q0.1821,-0.5737 0.2373,-0.6230Q0.2925,-0.6724 0.3154,-0.7188L0.3726,-0.7188Z" fill="#000"/>
<text transform="translate(518.20,523.90) scale(1,1.04)" text-anchor="middle" font-size="22.6">2</text>
<text transform="translate(628.10,523.90) scale(1,1.04)" text-anchor="middle" font-size="22.6">3</text>
<text transform="translate(17.80,255.00) rotate(-90) scale(1,1.04)" text-anchor="middle" font-size="22.3">Mole Fraction</text>
<text transform="translate(321.00,555.00)" font-size="22.6">log <tspan font-style="italic" dx="1.8">f</tspan><tspan font-size="17.5" dx="-1" dy="4.6">O2</tspan><tspan dx="-1.6" dy="-4.6"> - IW</tspan></text>
<text transform="translate(480.50,208.80) scale(1,1.04)" font-size="22.8">H/C=0.5 (mass)</text>
<path transform="translate(456.00,246.40) scale(22.4,23.520)" d="M0.3726,0L0.2847,0L0.2847,-0.5601Q0.2529,-0.5298 0.2012,-0.4995Q0.1494,-0.4692 0.1084,-0.4541L0.1084,-0.5391Q0.1821,-0.5737 0.2373,-0.6230Q0.2925,-0.6724 0.3154,-0.7188L0.3726,-0.7188Z" fill="#000"/>
<text transform="translate(468.45,246.40) scale(1,1.05)" font-size="22.4">800 K</text>
<text transform="translate(474.00,273.60) scale(1,1.05)" font-size="22.6">500 K</text>
<text transform="translate(98.00,299.60) scale(1,1.05)" fill="#c0101f" font-size="22.6">CH<tspan font-size="17.5" dy="6.5">4</tspan></text>
<text transform="translate(101.50,387.80) scale(1,1.04)" fill="#1b72cf" font-size="22.6">CO</text>
<text transform="translate(485.00,385.30) scale(1,1.04)" fill="#0f5e1d" font-size="22.6">C<tspan dy="-3">O</tspan><tspan font-size="19" dy="3.6">2</tspan></text>
<text transform="translate(541.50,437.80) scale(1,1.04)" fill="#0f5e1d" font-size="22.6">CO<tspan font-size="19" dy="1.8">2</tspan></text>
<text transform="matrix(0.9925,-0.1219,0.1823,1.0340,340.50,77.80)" font-size="22.6">H<tspan font-size="17.5" dy="5">2</tspan><tspan dy="-5">O</tspan></text>
<text transform="matrix(0.7314,-0.6820,0.7880,0.6157,382.80,228.00)" font-size="22.6">H<tspan font-size="17.5" dy="4">2</tspan><tspan dy="-4">O</tspan></text>
<text transform="matrix(0.8387,0.5446,-0.6691,0.7431,126.60,105.80)" fill="#2a1880" font-size="22.6">H<tspan font-size="17.5" dy="4">2</tspan></text>
<text transform="matrix(0.7314,0.6820,-0.8090,0.5878,155.20,440.20)" fill="#2a1880" font-size="22.6">H<tspan font-size="17.5" dy="4">2</tspan></text>
</g>
</svg>
</body></html>
